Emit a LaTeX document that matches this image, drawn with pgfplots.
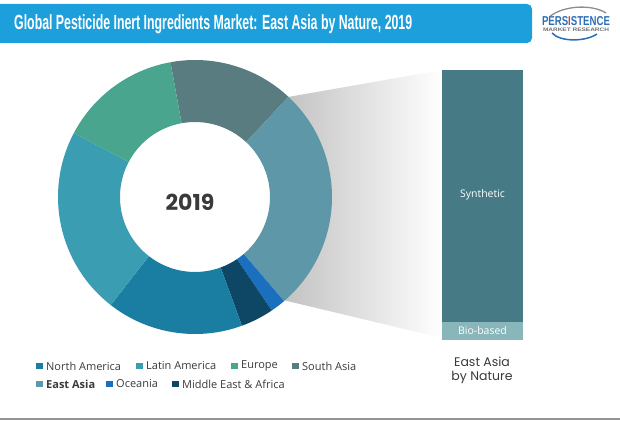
\documentclass[border=0pt]{standalone}
\usepackage{pgfplots}
\pgfplotsset{compat=1.18}
\usepackage{fontspec}
\setmainfont{Open Sans}
\newfontfamily\titlefont{Liberation Sans}
\newfontfamily\popp{Poppins}
\definecolor{titleblue}{HTML}{1C9FDA}
\definecolor{cNA}{HTML}{1A7EA3}
\definecolor{cLA}{HTML}{3A9DB2}
\definecolor{cEU}{HTML}{4AA58F}
\definecolor{cSA}{HTML}{587C7F}
\definecolor{cEA}{HTML}{5E97A8}
\definecolor{cOC}{HTML}{1A6FBF}
\definecolor{cME}{HTML}{0E4766}
\definecolor{synth}{HTML}{467A84}
\definecolor{bio}{HTML}{88B6BA}
\definecolor{logoblue}{HTML}{2A6FB5}
\definecolor{logored}{HTML}{D8345F}
\definecolor{txt}{HTML}{3A3A3A}
% donut wedge: #1 start angle, #2 share (%), #3 colour
\newcommand\donutwedge[3]{%
  \fill[#3] (axis cs:{195+137*cos(#1)},{197-137*sin(#1)})
    arc[start angle=#1, end angle={#1-3.6*#2}, radius=137pt]
    -- (axis cs:{195+75*cos(#1-3.6*#2)},{197-75*sin(#1-3.6*#2)})
    arc[start angle={#1-3.6*#2}, end angle=#1, radius=75pt] -- cycle;}
\newcommand\legitem[4]{% x, y, colour, text
  \fill[#3] (axis cs:#1,{#2-3.3}) rectangle (axis cs:{#1+6.5},{#2+3.3});
  \node[anchor=west, inner sep=0pt, text=txt, font=\fontsize{11}{13}\selectfont] at (axis cs:{#1+10},#2) {#4};}
\begin{document}
\begin{tikzpicture}
\useasboundingbox (0,0) rectangle (620pt,420pt);
\begin{axis}[at={(0,0)}, anchor=south west, scale only axis,
  x=1pt, y=1pt, xmin=0, xmax=620, ymin=0, ymax=420, y dir=reverse,
  hide axis, clip=false]
% title bar
\fill[titleblue, rounded corners=5pt] (axis cs:-10,4) rectangle (axis cs:532,43);
\node[anchor=west, inner sep=0pt, text=white] at (axis cs:14,24)
  {\resizebox{398pt}{\height}{\titlefont\bfseries\fontsize{20.5}{20}\selectfont Global Pesticide Inert Ingredients Market: East Asia by Nature, 2019}};
% logo
\draw[black!45, line width=1.3pt] (axis cs:548,18) .. controls (axis cs:562,5) and (axis cs:592,4) .. (axis cs:606,13);
\draw[logoblue, line width=1.5pt] (axis cs:552,33) .. controls (axis cs:560,42) and (axis cs:585,42) .. (axis cs:597,34);
\fill[white] (axis cs:541,16.5) rectangle (axis cs:611,32);
\node[inner sep=0pt, anchor=center] at (axis cs:576,21.5)
  {\resizebox{68pt}{9pt}{\titlefont\bfseries\textcolor{logoblue}{PERS}\textcolor{logored}{I}\textcolor{logoblue}{STENCE}}};
\node[inner sep=0pt, anchor=center, text=black!55] at (axis cs:576,29.5)
  {\resizebox{66pt}{3.5pt}{\titlefont\bfseries MARKET RESEARCH}};
% connector
\shade[left color=black!24, right color=white, shading angle=90]
  (axis cs:288,97) -- (axis cs:442,70) -- (axis cs:442,338) -- (axis cs:283,300) -- cycle;
% donut (shares in %, clockwise from 100.3 deg)
\donutwedge{100.3}{14.8}{cSA}
\donutwedge{47.02}{26.8}{cEA}
\donutwedge{-49.46}{1.8}{cOC}
\donutwedge{-55.94}{3.9}{cME}
\donutwedge{-69.98}{16.1}{cNA}
\donutwedge{-127.94}{22.2}{cLA}
\donutwedge{-207.86}{14.4}{cEU}
\node[text=txt, font=\popp\bfseries\fontsize{22}{22}\selectfont] at (axis cs:190,202) {2019};
% legend
\legitem{36}{366}{cNA}{North America}
\legitem{136}{366}{cLA}{Latin America}
\legitem{231}{366}{cEU}{Europe}
\legitem{292}{366}{cSA}{South Asia}
\legitem{36}{384}{cEA}{\textbf{East Asia}}
\legitem{106}{384}{cOC}{Oceania}
\legitem{172}{384}{cME}{Middle East \& Africa}
% bar caption
\node[align=center, text=txt, font=\popp\fontsize{12.5}{14}\selectfont] at (axis cs:482,370) {East Asia\\by Nature};
% bottom rule
\fill[black!42] (axis cs:0,417.5) rectangle (axis cs:620,420);
\end{axis}
\begin{axis}[at={(442pt,80pt)}, anchor=south west, scale only axis,
  width=81pt, height=270pt, xmin=-0.5, xmax=0.5, ymin=0, ymax=100,
  hide axis, clip=false, ybar stacked, bar width=81pt]
\addplot[fill=bio, draw=none] coordinates {(0,6.7)};
\addplot[fill=synth, draw=none] coordinates {(0,93.3)};
\end{axis}
\node[text=white, font=\fontsize{10.5}{12}\selectfont] at (482.5pt,225pt) {Synthetic};
\node[text=white, font=\fontsize{10.5}{12}\selectfont] at (482.5pt,89pt) {Bio-based};
\end{tikzpicture}
\end{document}
